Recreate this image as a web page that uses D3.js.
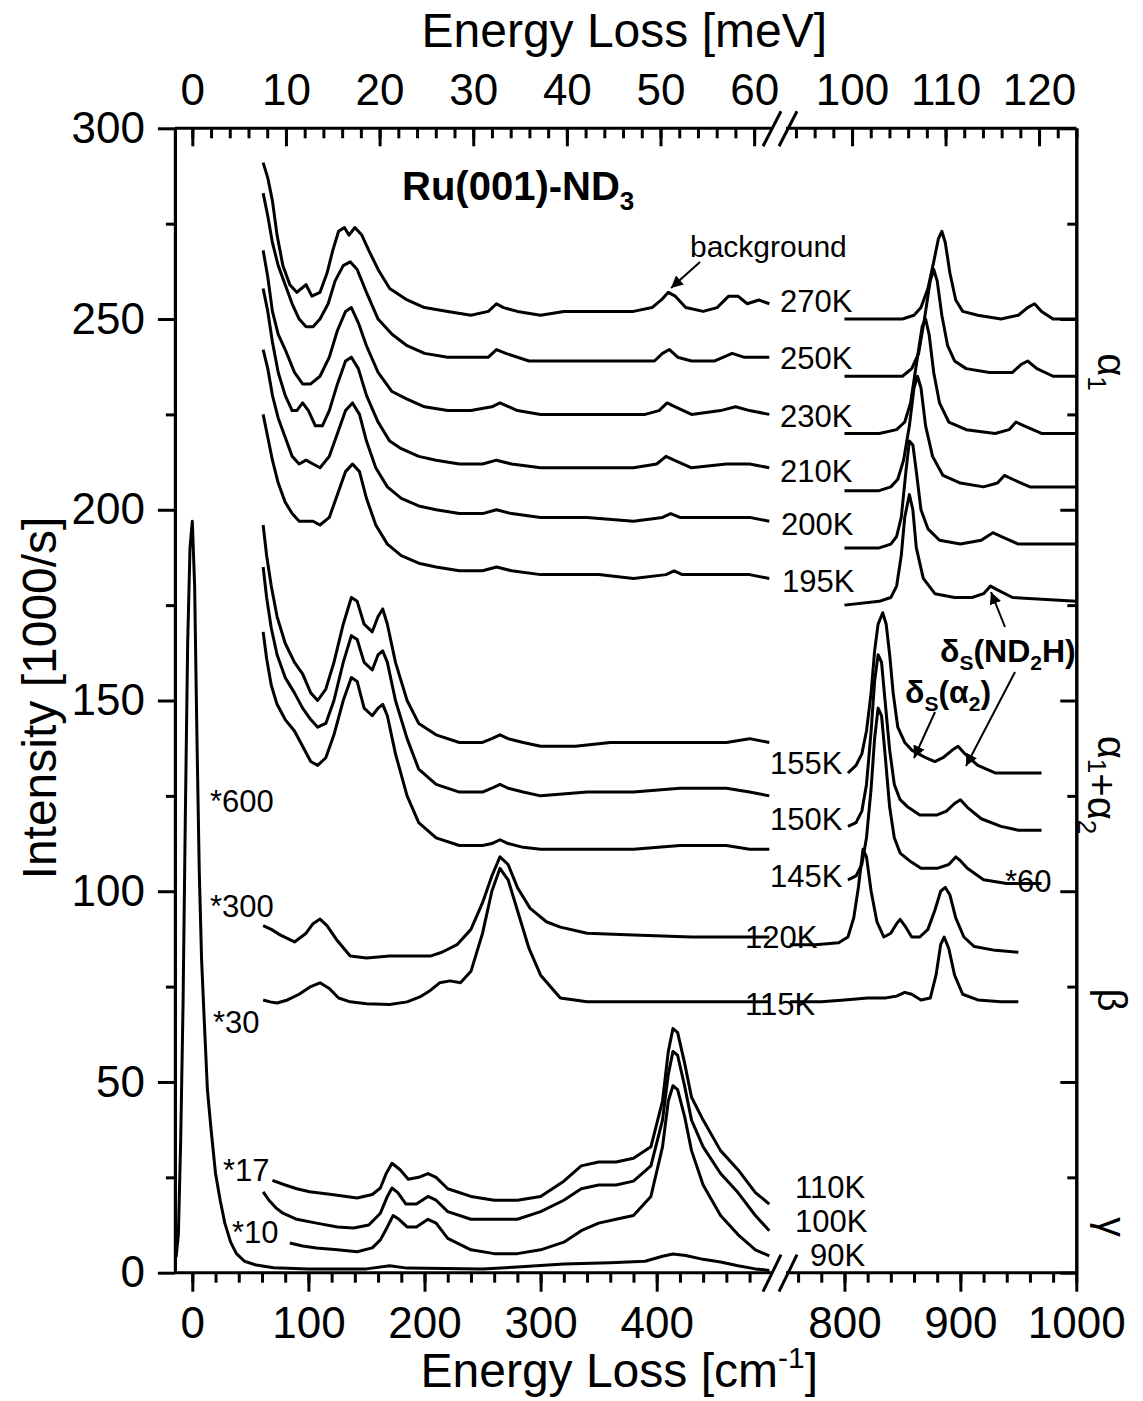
<!DOCTYPE html>
<html>
<head>
<meta charset="utf-8">
<script src="https://cdn.jsdelivr.net/npm/d3@7"></script>
<style>
  body { margin: 0; background: #fff; }
  text { font-family: 'Liberation Sans', Arial, sans-serif; fill: #000; }
</style>
</head>
<body>
<div id="chart"></div>
<script>
// spectra: [energy loss cm^-1, intensity 1000/s], left part (< 500) and right part (> 750)
const s270L = [[61,291],[65,287],[69,281],[73,272],[78,264],[84,259],[90,257],[94,258],[98,259],[103,256],[110,257],[116,262],[121,268],[126,273],[131,274],[135,272],[140,274],[146,272],[152,268],[160,263],[170,258],[185,255],[200,253],[220,252],[240,251],[255,252],[262,254],[268,253],[280,252],[300,251],[320,252],[340,252],[360,252],[380,252],[396,253],[404,255],[410,257],[416,256],[425,253],[440,252],[452,253],[462,256],[470,256],[478,254],[488,255],[497,254]];
const s270R = [[800,250],[830,250],[850,250],[860,251],[866,253],[872,258],[877,265],[881,271],[884,273],[887,270],[891,262],[896,255],[902,252],[915,251],[935,250],[950,251],[958,253],[964,254],[970,252],[980,250],[1000,250]];
const s250L = [[61,283],[65,277],[69,270],[74,264],[80,259],[86,254],[92,250],[98,248],[104,248],[110,250],[117,254],[123,260],[130,264],[136,265],[142,263],[150,257],[160,250],[172,246],[185,243],[200,241],[220,240],[240,240],[255,240],[262,242],[270,241],[290,239],[320,239],[350,239],[380,239],[398,239],[405,241],[411,242],[418,240],[430,239],[450,239],[465,241],[475,240],[497,240]];
const s250R = [[800,235],[830,235],[850,235],[858,237],[864,241],[869,250],[874,260],[877,263],[880,260],[884,251],[889,243],[895,239],[905,237],[925,236],[945,236],[952,238],[958,239],[966,237],[980,235],[1000,235]];
const s230L = [[61,268],[65,261],[69,252],[74,246],[80,242],[88,236],[95,233],[102,233],[110,235],[118,240],[125,247],[132,252],[137,253],[143,249],[150,243],[160,236],[172,231],[185,229],[200,227],[220,226],[240,226],[258,227],[265,228],[280,226],[300,225],[330,225],[360,225],[390,225],[402,226],[409,228],[416,227],[430,225],[455,226],[468,227],[480,226],[497,225]];
const s230R = [[800,220],[830,220],[845,221],[852,223],[857,228],[862,238],[867,248],[870,250],[873,246],[877,236],[882,228],[890,223],[905,221],[930,220],[942,221],[948,223],[955,222],[970,220],[1000,220]];
const s210L = [[61,258],[65,252],[69,244],[74,236],[80,230],[86,226],[90,226],[95,228],[100,226],[106,222],[112,222],[118,226],[125,233],[132,239],[137,240],[143,237],[150,230],[160,223],[170,218],[180,216],[195,214],[210,213],[230,212],[250,212],[262,213],[275,212],[300,211],[340,211],[380,211],[400,212],[408,214],[415,213],[430,211],[460,212],[480,212],[497,211]];
const s210R = [[800,205],[830,205],[840,206],[846,208],[851,213],[856,222],[860,232],[863,235],[866,232],[870,222],[876,214],[885,209],[900,207],[920,206],[932,207],[938,209],[945,208],[960,206],[1000,206]];
const s200L = [[61,242],[65,237],[69,230],[74,224],[80,219],[86,214],[92,212],[98,213],[104,212],[110,211],[118,214],[125,220],[132,226],[138,228],[144,225],[150,218],[158,211],[168,206],[180,203],[195,201],[210,200],[230,199],[250,199],[262,200],[275,199],[300,198],[340,198],[380,197],[405,198],[412,199],[420,198],[450,198],[480,198],[497,197]];
const s200R = [[800,190],[830,190],[840,191],[845,193],[849,198],[853,210],[856,218],[859,217],[862,210],[866,200],[872,195],[882,192],[900,191],[918,192],[928,194],[935,193],[950,191],[1000,191]];
const s195L = [[61,225],[65,219],[69,213],[74,207],[80,202],[86,199],[92,197],[98,197],[104,197],[110,196],[118,198],[125,204],[132,210],[138,212],[144,210],[150,203],[158,196],[168,191],[180,188],[195,186],[210,185],[230,184],[250,184],[262,185],[275,184],[300,183],[350,183],[380,182],[408,183],[415,184],[422,183],[450,183],[480,183],[497,182]];
const s195R = [[800,175],[830,176],[840,177],[845,180],[849,188],[852,198],[856,204],[859,200],[862,190],[868,182],[878,178],[895,177],[910,177],[920,178],[926,180],[932,179],[945,177],[1000,176]];
const s155L = [[61,196],[64,188],[68,180],[73,172],[80,165],[88,160],[95,157],[102,152],[108,150],[115,153],[122,160],[130,170],[137,177],[142,176],[148,170],[155,168],[160,172],[164,174],[168,170],[175,160],[185,150],[195,144],[210,141],[230,139],[250,139],[258,140],[265,141],[272,140],[285,139],[300,138],[330,138],[360,139],[400,139],[430,139],[460,139],[480,140],[497,139]];
const s155R = [[803,131],[810,133],[815,136],[819,142],[823,152],[826,163],[829,170],[833,173],[836,170],[839,162],[842,152],[846,143],[852,139],[858,137],[864,136],[870,135],[878,134],[885,135],[893,137],[898,138],[904,136],[915,133],[930,131],[950,131],[970,131]];
const s150L = [[61,185],[64,177],[68,169],[73,162],[80,156],[88,152],[95,148],[102,145],[108,143],[115,144],[122,150],[130,160],[137,167],[142,166],[148,160],[155,158],[160,162],[164,163],[168,160],[175,150],[185,140],[195,132],[210,128],[230,126],[250,126],[258,127],[265,128],[272,127],[285,126],[300,125],[340,126],[380,126],[420,127],[460,127],[480,126],[497,125]];
const s150R = [[803,117],[810,118],[815,121],[819,128],[823,142],[826,155],[829,162],[832,160],[835,150],[839,137],[843,128],[848,124],[855,122],[865,120],[880,120],[888,121],[895,123],[900,124],[906,122],[918,119],[935,117],[950,116],[970,116]];
const s145L = [[61,168],[64,161],[68,154],[73,149],[80,145],[88,142],[95,138],[102,134],[108,133],[115,135],[122,141],[130,150],[137,156],[142,155],[148,148],[155,146],[160,148],[164,149],[168,146],[175,136],[185,125],[195,118],[210,114],[230,112],[250,112],[258,112.5],[265,113.5],[272,112.5],[285,111.5],[300,111],[340,111],[380,111],[420,112],[460,112],[480,111],[497,111]];
const s145R = [[803,103],[810,104],[815,107],[819,114],[823,127],[826,140],[829,148],[832,146],[835,136],[839,122],[843,114],[848,110],[856,108],[866,106],[880,106],[890,107],[896,109],[900,108],[906,106],[920,103],[940,102],[970,102]];
const s120L = [[61,91],[68,90],[76,88.5],[88,86.7],[98,89],[104,91.5],[110,92.7],[116,91],[125,87],[136,83],[150,82.5],[170,83],[190,83],[205,83],[215,84],[228,86],[240,90],[250,97],[258,104],[265,109],[272,107],[280,101],[291,95.5],[305,92],[317,90.6],[340,89],[380,88.5],[430,88],[470,88],[497,88]];
const s120R = [[753,86],[775,86],[795,86.5],[803,88],[808,93],[812,101],[816,111],[819,109],[823,100],[828,92],[834,88],[840,89],[845,91.5],[848,92.6],[852,91],[858,88],[865,88],[872,90],[878,95],[883,100],[887,101],[891,99],[896,93],[903,88],[912,85.5],[930,84.5],[950,84]];
const s115L = [[61,71.5],[67,71],[73,70.7],[82,71.5],[92,73],[102,75],[110,76],[118,74.5],[126,72],[136,71],[150,70.5],[170,70.3],[185,71],[196,72.3],[205,74],[213,76],[222,76.5],[231,76],[240,79],[250,89],[258,100],[265,106],[272,103],[280,95],[290,85],[300,78],[317,72],[340,71],[380,71],[430,71],[470,71],[497,71]];
const s115R = [[753,71],[780,71],[800,71.5],[820,72],[835,72],[845,72.5],[852,73.5],[858,73],[866,71.5],[874,72],[879,78],[883,86],[886,88],[890,85],[895,78],[902,73],[915,71.5],[935,71],[950,71]];
const s110L = [[69,24.2],[80,23],[90,22],[101,21.2],[120,20.5],[142,19.6],[155,20.5],[162,22.2],[167,26],[172,28.7],[179,27],[186,24.5],[195,25],[203,26],[210,25],[220,22],[240,20],[260,19],[280,19],[300,20],[320,24],[335,28],[350,29],[365,29],[380,30],[395,33],[405,45],[410,58],[414,64],[418,63],[424,55],[430,46],[440,40],[455,32],[470,27],[485,21],[497,18]];
const s100L = [[61,21.2],[66,19],[72,17],[78,15.6],[90,14],[107,13],[125,12],[139,11.7],[152,12.5],[162,15.6],[168,20],[172,22.2],[177,21],[184,18],[193,18],[203,20],[210,19],[220,16],[240,14],[260,14],[280,14],[300,16],[320,19],[335,22],[350,23],[365,23],[380,24],[395,28],[405,40],[410,52],[414,58],[418,57],[424,49],[430,40],[440,33],[455,26],[470,21],[485,15],[497,11]];
const s90xL = [[84,7.8],[95,7],[107,6.5],[125,6],[142,5.5],[155,6.5],[162,8.6],[168,12],[173,15],[178,14],[185,12],[193,12],[203,14],[210,13],[220,9],[240,6],[260,5],[280,5],[300,6],[320,8],[335,11],[350,13],[365,14],[380,15],[395,20],[405,33],[410,45],[414,49],[418,48],[424,41],[430,32],[440,23],[455,15],[470,10],[485,6],[497,4.4]];
const s90L = [[-14,4],[-12,10],[-10,35],[-8,70],[-6,120],[-4,165],[-2,190],[0,197],[2,180],[4,140],[6,105],[8,82],[10,68],[13,48],[16,38],[20,26],[24,19],[28,13],[33,8],[38,5],[45,3],[55,2],[70,1.3],[100,1],[150,1],[170,1.8],[185,1.2],[250,1],[280,1.5],[320,2.3],[360,2.6],[390,3],[405,4.3],[414,4.9],[425,4.5],[440,3.5],[455,2.8],[470,1.8],[485,1],[497,0.6]];

const leftParts = [s270L, s250L, s230L, s210L, s200L, s195L, s155L, s150L, s145L, s120L, s115L, s110L, s100L, s90xL, s90L];
const rightParts = [s270R, s250R, s230R, s210R, s200R, s195R, s155R, s150R, s145R, s120R, s115R];

const tempLabels = ['270K', '250K', '230K', '210K', '200K', '195K', '155K', '150K', '145K', '120K', '115K', '110K', '100K', '90K'];
const factorLabels = ['*600', '*300', '*30', '*17', '*10', '*60'];

const cmTicksLeft = [0, 100, 200, 300, 400];
const cmTicksRight = [800, 900, 1000];
const meVTicksLeft = [0, 10, 20, 30, 40, 50, 60];
const meVTicksRight = [100, 110, 120];
const yTicks = [0, 50, 100, 150, 200, 250, 300];

const W = 1143;
const H = 1401;
const CM_PER_MEV = 8.0655;

const xLeft = d3.scaleLinear().domain([-15, 500]).range([174.9, 772.8]);
const xRight = d3.scaleLinear().domain([750, 1000]).range([786.5, 1076.3]);
const y = d3.scaleLinear().domain([0, 300]).range([1272.7, 128.3]);
const mLeft = d3.scaleLinear().domain(xLeft.domain().map(v => v / CM_PER_MEV)).range(xLeft.range());
const mRight = d3.scaleLinear().domain(xRight.domain().map(v => v / CM_PER_MEV)).range(xRight.range());

const svg = d3.select('#chart').append('svg')
  .attr('width', W)
  .attr('height', H);

svg.append('rect').attr('width', W).attr('height', H).attr('fill', '#fff');

// spectra
const lineL = d3.line().x(d => xLeft(d[0])).y(d => y(d[1]));
const lineR = d3.line().x(d => xRight(d[0])).y(d => y(d[1]));

const curves = svg.append('g')
  .attr('fill', 'none')
  .attr('stroke', '#000')
  .attr('stroke-width', 3)
  .attr('stroke-linejoin', 'round');

curves.selectAll('.left').data(leftParts).enter().append('path')
  .attr('class', 'left')
  .attr('d', lineL);
curves.selectAll('.right').data(rightParts).enter().append('path')
  .attr('class', 'right')
  .attr('d', lineR);

// axes
const range = (a, b, s) => d3.range(a, b + s / 2, s);
const fmt = d3.format('d');

function addAxis(axis, transform, withLabels) {
  const g = svg.append('g').attr('transform', transform).call(axis);
  g.selectAll('path').attr('stroke-width', 3);
  g.selectAll('line').attr('stroke-width', 3);
  g.selectAll('text').style('font-size', '44px').attr('font-family', 'Liberation Sans, Arial, sans-serif');
  if (!withLabels) g.selectAll('text').remove();
  return g;
}

// bottom
addAxis(d3.axisBottom(xLeft).tickValues(range(0, 480, 20)).tickSize(10).tickSizeOuter(0).tickFormat(''), `translate(0,${y(0)})`, false)
  .select('.domain').attr('d', `M${xLeft(-15)},0H771`);
addAxis(d3.axisBottom(xLeft).tickValues(cmTicksLeft).tickSize(19).tickPadding(15).tickFormat(fmt), `translate(0,${y(0)})`, true)
  .select('.domain').remove();
addAxis(d3.axisBottom(xRight).tickValues(range(760, 1000, 20)).tickSize(10).tickSizeOuter(0).tickFormat(''), `translate(0,${y(0)})`, false)
  .select('.domain').attr('d', `M786,0H${xRight(1000)}`);
addAxis(d3.axisBottom(xRight).tickValues(cmTicksRight).tickSize(19).tickPadding(15).tickFormat(fmt), `translate(0,${y(0)})`, true)
  .select('.domain').remove();

// top (meV)
addAxis(d3.axisTop(mLeft).tickValues(range(0, 60, 2)).tickSize(-10).tickSizeOuter(0).tickFormat(''), `translate(0,${y(300)})`, false)
  .select('.domain').attr('d', `M${xLeft(-15)},0H771`);
addAxis(d3.axisTop(mLeft).tickValues(meVTicksLeft).tickSize(-18).tickPadding(23).tickFormat(fmt), `translate(0,${y(300)})`, true)
  .select('.domain').remove();
addAxis(d3.axisTop(mRight).tickValues(range(94, 124, 2)).tickSize(-10).tickSizeOuter(0).tickFormat(''), `translate(0,${y(300)})`, false)
  .select('.domain').attr('d', `M786,0H${xRight(1000)}`);
addAxis(d3.axisTop(mRight).tickValues(meVTicksRight).tickSize(-18).tickPadding(23).tickFormat(fmt), `translate(0,${y(300)})`, true)
  .select('.domain').remove();

// left
addAxis(d3.axisLeft(y).tickValues(range(25, 275, 50)).tickSize(9).tickSizeOuter(0).tickFormat(''), `translate(${xLeft(-15)},0)`, false);
addAxis(d3.axisLeft(y).tickValues(yTicks).tickSize(17).tickSizeOuter(0).tickPadding(13).tickFormat(fmt), `translate(${xLeft(-15)},0)`, true);
// right
addAxis(d3.axisRight(y).tickValues(range(25, 275, 50)).tickSize(-9).tickSizeOuter(0).tickFormat(''), `translate(${xRight(1000)},0)`, false);
addAxis(d3.axisRight(y).tickValues(yTicks).tickSize(-16).tickSizeOuter(0), `translate(${xRight(1000)},0)`, false);

// axis break marks
const breaks = svg.append('g').attr('stroke', '#000').attr('stroke-width', 3);
[[y(300) + 18, y(300) - 17], [y(0) + 19, y(0) - 18]].forEach(([y1, y2]) => {
  [763, 779].forEach((x0) => {
    breaks.append('line')
      .attr('x1', x0).attr('y1', y1)
      .attr('x2', x0 + 18).attr('y2', y2);
  });
});

// axis titles
svg.append('text')
  .attr('x', 827).attr('y', 47)
  .attr('text-anchor', 'end')
  .style('font-size', '48px')
  .text('Energy Loss [meV]');

const bt = svg.append('text')
  .attr('x', 818).attr('y', 1387)
  .attr('text-anchor', 'end')
  .style('font-size', '48px');
bt.append('tspan').text('Energy Loss [cm');
bt.append('tspan').attr('dy', -19).style('font-size', '30px').text('-1');
bt.append('tspan').attr('dy', 19).text(']');

svg.append('text')
  .attr('transform', 'translate(56,698) rotate(-90)')
  .attr('text-anchor', 'middle')
  .style('font-size', '48px')
  .text('Intensity [1000/s]');

// title
const tt = svg.append('text')
  .attr('x', 402).attr('y', 200)
  .style('font-size', '40px')
  .style('font-weight', 'bold');
tt.append('tspan').text('Ru(001)-ND');
tt.append('tspan').attr('dy', 10).style('font-size', '26px').text('3');

// temperature labels
const tempPos = [[780, 312], [780, 369], [780, 427], [780, 482], [781, 535], [782, 592], [770, 774], [770, 830], [770, 887], [745, 948], [745, 1015], [795, 1198], [795, 1232], [810, 1266]];
svg.append('g').selectAll('text').data(tempLabels).enter().append('text')
  .attr('x', (d, i) => tempPos[i][0])
  .attr('y', (d, i) => tempPos[i][1])
  .style('font-size', '31px')
  .text(d => d);

const factorPos = [[210, 812], [210, 917], [213, 1033], [223, 1181], [232, 1243], [1005, 892]];
svg.append('g').selectAll('text').data(factorLabels).enter().append('text')
  .attr('x', (d, i) => factorPos[i][0])
  .attr('y', (d, i) => factorPos[i][1])
  .style('font-size', '31px')
  .text(d => d);

// phase labels on the right, rotated
function phaseLabel(yc, parts) {
  const t = svg.append('text')
    .attr('transform', `translate(1098,${yc}) rotate(90)`)
    .attr('text-anchor', 'middle')
    .style('font-size', '40px');
  parts.forEach(([s, sub]) => {
    if (sub) {
      t.append('tspan').attr('dy', 10).style('font-size', '26px').text(s);
      t.append('tspan').attr('dy', -10).text('');
    } else {
      t.append('tspan').text(s);
    }
  });
}
phaseLabel(372, [['α'], ['1', true]]);
phaseLabel(785, [['α'], ['1', true], ['+'], ['α'], ['2', true]]);
phaseLabel(1000, [['β']]);
phaseLabel(1227, [['γ']]);

// annotations
svg.append('text').attr('x', 690).attr('y', 257).style('font-size', '30px').text('background');

const defs = svg.append('defs');
defs.append('marker')
  .attr('id', 'head')
  .attr('viewBox', '0 0 10 10')
  .attr('refX', 10).attr('refY', 5)
  .attr('markerWidth', 6).attr('markerHeight', 6)
  .attr('orient', 'auto')
  .append('path').attr('d', 'M0,0L10,5L0,10z').attr('fill', '#000');

const arrows = [[700, 262, 671, 288], [1005, 627, 991, 592], [1015, 672, 966, 766], [935, 712, 914, 758]];
svg.append('g').selectAll('line').data(arrows).enter().append('line')
  .attr('x1', d => d[0]).attr('y1', d => d[1])
  .attr('x2', d => d[2]).attr('y2', d => d[3])
  .attr('stroke', '#000').attr('stroke-width', 2)
  .attr('marker-end', 'url(#head)');

const d1 = svg.append('text').attr('x', 940).attr('y', 662).style('font-size', '32px').style('font-weight', 'bold');
d1.append('tspan').text('δ');
d1.append('tspan').attr('dy', 8).style('font-size', '21px').text('S');
d1.append('tspan').attr('dy', -8).text('(ND');
d1.append('tspan').attr('dy', 8).style('font-size', '21px').text('2');
d1.append('tspan').attr('dy', -8).text('H)');

const d2 = svg.append('text').attr('x', 905).attr('y', 703).style('font-size', '32px').style('font-weight', 'bold');
d2.append('tspan').text('δ');
d2.append('tspan').attr('dy', 8).style('font-size', '21px').text('S');
d2.append('tspan').attr('dy', -8).text('(α');
d2.append('tspan').attr('dy', 8).style('font-size', '21px').text('2');
d2.append('tspan').attr('dy', -8).text(')');
</script>
</body>
</html>
